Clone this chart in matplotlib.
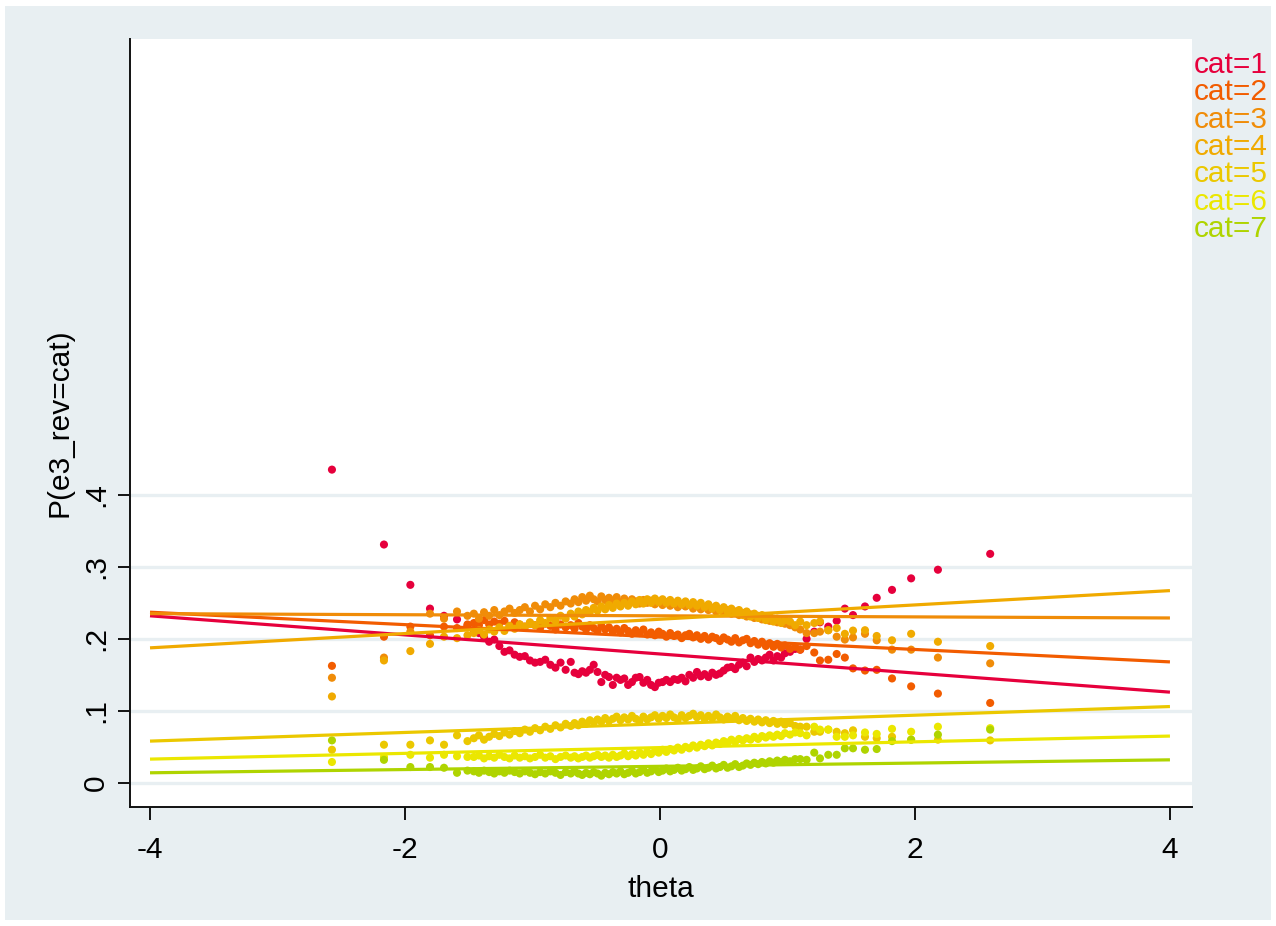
import matplotlib
matplotlib.use('Agg')
import matplotlib.pyplot as plt
from matplotlib.patches import Rectangle

plt.rcParams['font.family'] = ['Liberation Sans', 'DejaVu Sans']

# observed proportions of each response category at each theta value
theta = [-2.573, -2.165, -1.958, -1.804, -1.694, -1.592, -1.51,
         -1.46, -1.42, -1.38, -1.34, -1.30, -1.26, -1.22, -1.18, -1.14, -1.10,
         -1.06, -1.02, -0.98, -0.94, -0.90, -0.86, -0.82, -0.78, -0.74, -0.70,
         -0.67, -0.64, -0.61, -0.58, -0.55, -0.52, -0.49, -0.46, -0.43, -0.40,
         -0.37, -0.34, -0.31, -0.28, -0.25, -0.22, -0.19, -0.16, -0.13, -0.10,
         -0.07, -0.04, -0.01, 0.02, 0.05, 0.08, 0.11, 0.14, 0.17, 0.20,
         0.23, 0.26, 0.29, 0.32, 0.35, 0.38, 0.41, 0.44, 0.47, 0.50,
         0.53, 0.56, 0.59, 0.62, 0.65, 0.68, 0.71, 0.74, 0.77, 0.80,
         0.83, 0.86, 0.89, 0.92, 0.95, 0.98, 1.02, 1.06,
         1.10, 1.15, 1.21, 1.255, 1.32, 1.386, 1.45, 1.514, 1.608, 1.70, 1.82, 1.97, 2.18, 2.59]

p_cat1 = [0.435, 0.331, 0.275, 0.242, 0.232, 0.227, 0.218,
          0.212, 0.208, 0.203, 0.196, 0.199, 0.190, 0.182, 0.184, 0.178, 0.175,
          0.176, 0.170, 0.167, 0.168, 0.171, 0.164, 0.160, 0.167, 0.157, 0.168,
          0.153, 0.151, 0.155, 0.153, 0.157, 0.164, 0.154, 0.140, 0.150, 0.147,
          0.136, 0.146, 0.143, 0.145, 0.136, 0.140, 0.146, 0.147, 0.139, 0.143,
          0.136, 0.133, 0.139, 0.140, 0.143, 0.140, 0.144, 0.143, 0.146, 0.141,
          0.150, 0.146, 0.154, 0.148, 0.151, 0.147, 0.153, 0.150, 0.152, 0.156,
          0.160, 0.161, 0.158, 0.164, 0.167, 0.162, 0.174, 0.168, 0.172, 0.170,
          0.174, 0.178, 0.170, 0.176, 0.174, 0.180, 0.182, 0.186,
          0.185, 0.200, 0.210, 0.223, 0.217, 0.225, 0.242, 0.233, 0.245, 0.257, 0.268, 0.284, 0.296, 0.318]

p_cat2 = [0.1625, 0.203, 0.217, 0.205, 0.217, 0.215, 0.220,
          0.222, 0.219, 0.226, 0.220, 0.224, 0.221, 0.225, 0.218, 0.223, 0.220,
          0.217, 0.222, 0.219, 0.215, 0.221, 0.218, 0.213, 0.220, 0.216, 0.219,
          0.214, 0.222, 0.217, 0.213, 0.219, 0.215, 0.211, 0.218, 0.213, 0.216,
          0.210, 0.214, 0.209, 0.215, 0.211, 0.207, 0.212, 0.208, 0.213, 0.206,
          0.209, 0.205, 0.210, 0.207, 0.203, 0.208, 0.204, 0.206, 0.201, 0.205,
          0.207, 0.202, 0.205, 0.200, 0.204, 0.199, 0.203, 0.201, 0.197, 0.202,
          0.199, 0.196, 0.201, 0.195, 0.198, 0.200, 0.194, 0.197, 0.192, 0.196,
          0.190, 0.194, 0.189, 0.193, 0.188, 0.191, 0.186, 0.189,
          0.185, 0.190, 0.181, 0.170, 0.171, 0.179, 0.174, 0.159, 0.156, 0.157, 0.145, 0.134, 0.124, 0.111]

p_cat3 = [0.146, 0.174, 0.210, 0.235, 0.228, 0.238, 0.232,
          0.235, 0.228, 0.237, 0.232, 0.240, 0.233, 0.238, 0.242, 0.236, 0.240,
          0.244, 0.238, 0.246, 0.241, 0.248, 0.244, 0.250, 0.246, 0.252, 0.249,
          0.255, 0.251, 0.258, 0.253, 0.260, 0.255, 0.252, 0.259, 0.254, 0.257,
          0.253, 0.258, 0.251, 0.256, 0.250, 0.255, 0.252, 0.249, 0.254, 0.250,
          0.253, 0.248, 0.252, 0.247, 0.251, 0.246, 0.249, 0.244, 0.248, 0.245,
          0.247, 0.242, 0.246, 0.241, 0.244, 0.240, 0.243, 0.238, 0.241, 0.237,
          0.240, 0.235, 0.238, 0.233, 0.236, 0.231, 0.234, 0.229, 0.232, 0.227,
          0.230, 0.225, 0.228, 0.223, 0.226, 0.221, 0.219, 0.216,
          0.213, 0.208, 0.208, 0.210, 0.212, 0.203, 0.199, 0.202, 0.207, 0.198, 0.185, 0.185, 0.174, 0.166]

p_cat4 = [0.120, 0.170, 0.183, 0.193, 0.203, 0.201, 0.205,
          0.208, 0.212, 0.206, 0.213, 0.210, 0.216, 0.211, 0.218, 0.214, 0.220,
          0.217, 0.223, 0.219, 0.226, 0.222, 0.229, 0.225, 0.232, 0.228, 0.235,
          0.231, 0.238, 0.234, 0.240, 0.237, 0.243, 0.239, 0.245, 0.241, 0.247,
          0.243, 0.249, 0.245, 0.250, 0.246, 0.252, 0.248, 0.254, 0.249, 0.255,
          0.250, 0.256, 0.251, 0.255, 0.250, 0.254, 0.249, 0.253, 0.248, 0.252,
          0.247, 0.251, 0.246, 0.250, 0.244, 0.248, 0.242, 0.246, 0.240, 0.244,
          0.238, 0.242, 0.236, 0.240, 0.233, 0.238, 0.231, 0.235, 0.229, 0.233,
          0.226, 0.231, 0.224, 0.228, 0.222, 0.226, 0.224, 0.219,
          0.224, 0.219, 0.222, 0.224, 0.212, 0.215, 0.207, 0.2115, 0.212, 0.204, 0.198, 0.207, 0.196, 0.190]

p_cat5 = [0.046, 0.053, 0.053, 0.059, 0.053, 0.066, 0.058,
          0.062, 0.066, 0.060, 0.064, 0.068, 0.065, 0.070, 0.067, 0.072, 0.069,
          0.074, 0.071, 0.076, 0.073, 0.078, 0.075, 0.080, 0.077, 0.082, 0.079,
          0.083, 0.080, 0.085, 0.082, 0.087, 0.084, 0.088, 0.085, 0.090, 0.086,
          0.089, 0.092, 0.087, 0.091, 0.088, 0.093, 0.089, 0.086, 0.092, 0.088,
          0.091, 0.094, 0.089, 0.093, 0.090, 0.095, 0.091, 0.088, 0.094, 0.090,
          0.093, 0.096, 0.091, 0.094, 0.089, 0.093, 0.090, 0.095, 0.091, 0.088,
          0.092, 0.089, 0.093, 0.087, 0.090, 0.086, 0.089, 0.085, 0.088, 0.084,
          0.087, 0.083, 0.086, 0.082, 0.085, 0.081, 0.083, 0.079,
          0.078, 0.078, 0.071, 0.071, 0.074, 0.071, 0.069, 0.073, 0.064, 0.062, 0.064, 0.060, 0.060, 0.059]

p_cat6 = [0.029, 0.036, 0.039, 0.035, 0.039, 0.037, 0.036,
          0.036, 0.038, 0.034, 0.037, 0.035, 0.039, 0.036, 0.034, 0.038, 0.035,
          0.037, 0.034, 0.036, 0.039, 0.035, 0.037, 0.033, 0.036, 0.038, 0.035,
          0.037, 0.034, 0.036, 0.038, 0.035, 0.037, 0.039, 0.036, 0.038, 0.035,
          0.039, 0.036, 0.038, 0.041, 0.037, 0.040, 0.038, 0.042, 0.039, 0.043,
          0.040, 0.044, 0.042, 0.046, 0.043, 0.047, 0.045, 0.049, 0.046, 0.050,
          0.048, 0.052, 0.049, 0.053, 0.051, 0.055, 0.052, 0.056, 0.054, 0.058,
          0.056, 0.060, 0.057, 0.061, 0.059, 0.062, 0.060, 0.064, 0.061, 0.065,
          0.063, 0.066, 0.064, 0.067, 0.065, 0.069, 0.067, 0.070,
          0.069, 0.066, 0.078, 0.074, 0.074, 0.064, 0.064, 0.066, 0.070, 0.068, 0.075, 0.071, 0.078, 0.076]

p_cat7 = [0.059, 0.032, 0.022, 0.022, 0.021, 0.014, 0.017,
          0.016, 0.014, 0.017, 0.015, 0.013, 0.016, 0.014, 0.017, 0.015, 0.013,
          0.016, 0.014, 0.012, 0.015, 0.013, 0.016, 0.014, 0.011, 0.015, 0.013,
          0.016, 0.013, 0.011, 0.014, 0.012, 0.015, 0.013, 0.010, 0.014, 0.012,
          0.015, 0.013, 0.016, 0.012, 0.014, 0.017, 0.013, 0.015, 0.018, 0.014,
          0.016, 0.019, 0.015, 0.017, 0.020, 0.016, 0.018, 0.021, 0.017, 0.019,
          0.022, 0.018, 0.020, 0.023, 0.019, 0.021, 0.024, 0.020, 0.022, 0.025,
          0.021, 0.023, 0.026, 0.022, 0.024, 0.027, 0.025, 0.028, 0.026, 0.029,
          0.027, 0.030, 0.028, 0.031, 0.029, 0.032, 0.030, 0.033,
          0.033, 0.032, 0.042, 0.034, 0.039, 0.039, 0.048, 0.048, 0.046, 0.047, 0.058, 0.060, 0.067, 0.074]

# fitted category probabilities at the ends of the theta range
fit_theta = [-4, 4]
fit_lo = [0.232, 0.237, 0.235, 0.1875, 0.058, 0.033, 0.014]
fit_hi = [0.126, 0.168, 0.229, 0.267, 0.106, 0.065, 0.032]

labels = ['cat=1', 'cat=2', 'cat=3', 'cat=4', 'cat=5', 'cat=6', 'cat=7']
colors = ['#e6003c', '#f25c00', '#f08c08', '#f0aa00', '#ebc800', '#ebe700', '#afd400']
observed = [p_cat1, p_cat2, p_cat3, p_cat4, p_cat5, p_cat6, p_cat7]

xticks = [-4, -2, 0, 2, 4]
yticks = [0, 0.1, 0.2, 0.3, 0.4]
ytick_labels = ['0', '.1', '.2', '.3', '.4']

BG = '#e8eff2'
W, H = 1276, 926
FS = 21.5

fig = plt.figure(figsize=(W / 100, H / 100), dpi=100, facecolor='white')
fig.patches.append(Rectangle((5 / W, 6 / H), 1266 / W, 914 / H, transform=fig.transFigure,
                             facecolor=BG, edgecolor='none', zorder=-1))

ax = fig.add_axes([130 / W, 1 - 807 / H, 1062 / W, 768 / H])
ax.set_facecolor('white')

for p, c in zip(observed, colors):
    ax.scatter(theta, p, s=34, color=c, edgecolors='none', zorder=3)
for lo, hi, c in zip(fit_lo, fit_hi, colors):
    ax.plot(fit_theta, [lo, hi], color=c, lw=2.3, zorder=4, solid_capstyle='butt')

ax.set_xlim(-4.157, 4.173)
ax.set_ylim(-0.0335, 1.033)
ax.set_xticks(xticks)
ax.set_xticklabels([str(v) for v in xticks])
ax.set_yticks(yticks)
ax.set_yticklabels(ytick_labels)
ax.grid(axis='y', color=BG, lw=2.4, zorder=0)
ax.set_axisbelow(True)

for side in ['top', 'right']:
    ax.spines[side].set_visible(False)
for side in ['left', 'bottom']:
    ax.spines[side].set_linewidth(1.4)
    ax.spines[side].set_color('#111111')

ax.tick_params(axis='both', direction='out', length=9, width=1.4, color='#111111', labelsize=FS)
ax.tick_params(axis='x', pad=12)
ax.tick_params(axis='y', pad=5.5, labelrotation=90)
for lbl in ax.get_yticklabels():
    lbl.set_va('center')

ax.set_xlabel('theta', fontsize=FS)
ax.xaxis.set_label_coords(0.5, -0.089)
ax.set_ylabel('P(e3_rev=cat)', fontsize=FS)
ax.yaxis.set_label_coords(-0.053, 0.5)

# category key to the right of the plot region
for i, (lab, c) in enumerate(zip(labels, colors)):
    fig.text(1194 / W, 1 - (73 + 27.3 * i) / H, lab, color=c, fontsize=FS,
             ha='left', va='baseline')

fig.savefig('out.png', dpi=100, facecolor=fig.get_facecolor())
